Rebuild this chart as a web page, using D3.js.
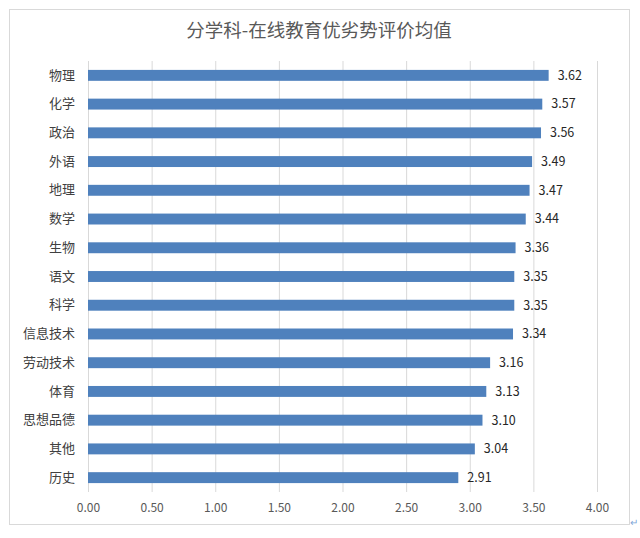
<!DOCTYPE html>
<html lang="zh">
<head>
<meta charset="UTF-8">
<title>分学科-在线教育优劣势评价均值</title>
<script src="https://d3js.org/d3.v7.min.js"></script>
<style>
  body { margin: 0; background: #fff; }
  text { font-family: "Noto Sans CJK SC", "Liberation Sans", sans-serif; }
</style>
</head>
<body>
<script>
// 学科与均值
var subjects = ["物理", "化学", "政治", "外语", "地理", "数学", "生物", "语文", "科学", "信息技术", "劳动技术", "体育", "思想品德", "其他", "历史"];
var means = [3.62, 3.57, 3.56, 3.49, 3.47, 3.44, 3.36, 3.35, 3.35, 3.34, 3.16, 3.13, 3.10, 3.04, 2.91];
var xTicks = [0, 0.5, 1, 1.5, 2, 2.5, 3, 3.5, 4];

var width = 640, height = 538;
var margin = {top: 61, right: 43, bottom: 46, left: 88};

var svg = d3.select("body").append("svg")
    .attr("width", width)
    .attr("height", height);

// 外框
svg.append("rect")
    .attr("x", 9.5).attr("y", 9.5)
    .attr("width", 620).attr("height", 515)
    .attr("fill", "#fff")
    .attr("stroke", "#d9d9d9");

svg.append("text")
    .attr("x", 634).attr("y", 526)
    .attr("text-anchor", "middle")
    .style("font-size", "10px")
    .style("fill", "#7fa7d8")
    .text("↵");

var x = d3.scaleLinear()
    .domain([0, 4])
    .range([margin.left, width - margin.right]);

var y = d3.scaleBand()
    .domain(subjects)
    .range([margin.top, height - margin.bottom])
    .paddingInner(0.62)
    .paddingOuter(0.31);

svg.append("text")
    .attr("x", 319).attr("y", 37)
    .attr("text-anchor", "middle")
    .style("font-size", "18.5px")
    .style("fill", "#595959")
    .text("分学科-在线教育优劣势评价均值");

// 网格线
svg.append("g")
    .selectAll("line")
    .data(xTicks)
    .join("line")
    .attr("x1", function(d) { return x(d) + 0.5; })
    .attr("x2", function(d) { return x(d) + 0.5; })
    .attr("y1", margin.top)
    .attr("y2", height - margin.bottom)
    .attr("stroke", "#d9d9d9");

var xAxis = svg.append("g")
    .attr("transform", "translate(0," + (height - margin.bottom) + ")")
    .call(d3.axisBottom(x).tickValues(xTicks).tickFormat(d3.format(".2f")).tickSize(0).tickPadding(11));
xAxis.select(".domain").remove();
xAxis.selectAll("text")
    .style("font-size", "12px")
    .style("font-family", "\"Noto Sans CJK SC\", sans-serif")
    .style("fill", "#595959");

var yAxis = svg.append("g")
    .attr("transform", "translate(" + margin.left + ",0)")
    .call(d3.axisLeft(y).tickSize(0).tickPadding(13));
yAxis.select(".domain").remove();
yAxis.selectAll("text")
    .style("font-size", "13px")
    .style("font-family", "\"Noto Sans CJK SC\", sans-serif")
    .style("fill", "#404040");

svg.append("g")
    .selectAll("rect")
    .data(means)
    .join("rect")
    .attr("x", x(0))
    .attr("y", function(d, i) { return y(subjects[i]); })
    .attr("width", function(d) { return x(d) - x(0); })
    .attr("height", y.bandwidth())
    .attr("fill", "#4f81bd");

svg.append("g")
    .selectAll("text")
    .data(means)
    .join("text")
    .attr("x", function(d) { return x(d) + 9; })
    .attr("y", function(d, i) { return y(subjects[i]) + y.bandwidth() / 2; })
    .attr("dy", "0.35em")
    .style("font-size", "12.5px")
    .style("fill", "#262626")
    .text(function(d) { return d.toFixed(2); });
</script>
</body>
</html>
